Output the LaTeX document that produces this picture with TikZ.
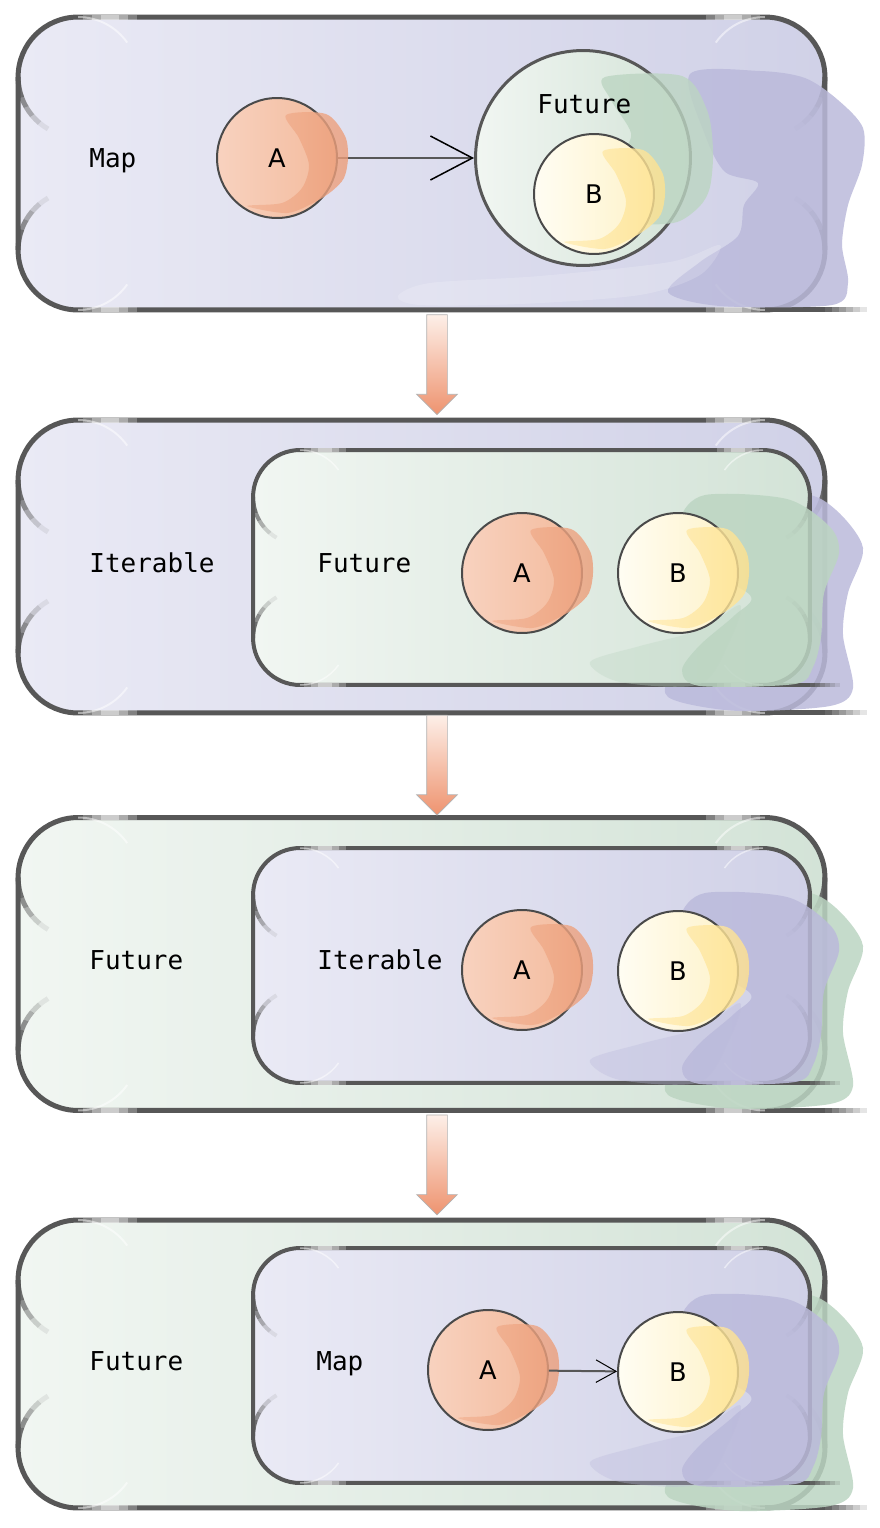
\documentclass[tikz,border=0pt]{standalone}
\usepackage{fontspec}
\setmainfont{DejaVu Sans}
\setmonofont{DejaVu Sans Mono}
\usetikzlibrary{arrows.meta,shapes.arrows}

\definecolor{boxline}{HTML}{575757}
\definecolor{ballline}{HTML}{4A4A4A}
\definecolor{lilacL}{HTML}{EAEAF5}
\definecolor{lilacR}{HTML}{D0D1E7}
\definecolor{sageL}{HTML}{F1F6F2}
\definecolor{sageR}{HTML}{D3E3D7}
\definecolor{lilacblob}{HTML}{BBBADB}
\definecolor{sageblob}{HTML}{BCD5C2}
\definecolor{peachL}{HTML}{F8D2BF}
\definecolor{peachR}{HTML}{F3BA9C}
\definecolor{peachLo}{HTML}{F2B596}
\definecolor{peachHi}{HTML}{EC9D79}
\definecolor{creamL}{HTML}{FFFDF3}
\definecolor{creamR}{HTML}{FEF2C8}
\definecolor{creamLo}{HTML}{FFEDB5}
\definecolor{creamHi}{HTML}{FFE28E}
\definecolor{arrowtop}{HTML}{FDEFE8}
\definecolor{arrowbot}{HTML}{EE936F}

\begin{document}
\begin{tikzpicture}[x=0.02cm,y=-0.02cm]
\tikzstyle{outerbox}=[rectangle, draw=boxline, line width=0.1cm, rounded corners=1.2cm, minimum width=16.14cm, minimum height=5.86cm, inner sep=0, outer sep=0]
\tikzstyle{innerbox}=[rectangle, draw=boxline, line width=0.08cm, rounded corners=0.94cm, minimum width=11.14cm, minimum height=4.7cm, inner sep=0, outer sep=0]
\tikzstyle{lilac}=[left color=lilacL, right color=lilacR]
\tikzstyle{sage}=[left color=sageL, right color=sageR]
\tikzstyle{ball}=[circle, draw=ballline, line width=0.04cm, minimum size=2.4cm, inner sep=0, font=\fontsize{14.6}{17}\selectfont]
\tikzstyle{peach}=[left color=peachL, right color=peachR]
\tikzstyle{cream}=[left color=creamL, right color=creamR]
\tikzstyle{tag}=[anchor=base west, inner sep=0, font=\ttfamily\fontsize{14.8}{17}\selectfont]
\tikzstyle{downarrow}=[single arrow, rotate=-90, draw=gray!60, line width=0.4pt, top color=arrowtop, bottom color=arrowbot, minimum height=2cm, inner xsep=0, inner ysep=0.2cm, single arrow head extend=0.2cm, single arrow tip angle=90, single arrow head indent=0]
\useasboundingbox (0,0) rectangle (879,1528);
\fill[white] (0,0) rectangle (879,1528);

% outer boxes
\node[outerbox, lilac] (m1) at (421.5,163.5) {};
\node[outerbox, lilac] (m2) at (421.5,566.5) {};
\node[outerbox, sage] (m3) at (421.5,964) {};
\node[outerbox, sage, minimum height=5.76cm] (m4) at (421.5,1364) {};
\foreach \b/\r/\w in {m1/1.2/0.1,m2/1.2/0.1,m3/1.2/0.1,m4/1.2/0.1}
 \foreach \a/\sx/\sy/\g/\gd/\l/\ld in {north west/1/-1/180/1/90/-1, north east/-1/-1/0/-1/90/1, south west/1/1/180/-1/270/1, south east/-1/1/0/1/270/-1}
 {
  \coordinate (cc) at ([xshift=\sx*\r*1cm, yshift=\sy*\r*1cm]\b.\a);
  \foreach \k/\o in {0/1,1/.85,2/.65,3/.45,4/.25,5/.1}{
   \pgfmathsetmacro\st{\g+\gd*10*\k}
   \draw[boxline, line width=\w cm, opacity=\o] (cc) ++(\st:\r cm) arc[start angle=\st, delta angle=\gd*10, radius=\r cm];
  }
  \foreach \k/\o in {0/.25,1/.5,2/.7,3/.7,4/.5,5/.25}
   \draw[white, line width=\w cm, opacity=\o] (cc) ++(\l:\r cm) ++({\sx*(5+9*\k)},0) -- ++({\sx*9},0);
  \draw[white, line width=0.04cm, opacity=.5] (cc) ++(\l:\r cm) arc[start angle=\l, delta angle=\ld*55, radius=\r cm];
 }
\foreach \b in {m1,m2,m3,m4}{
 \draw[boxline, line width=0.1cm] (\b.south east) ++(-60,0) -- ++(60,0);
 \foreach \k/\o in {0/.9,1/.75,2/.6,3/.45,4/.3,5/.15}
  \draw[boxline, line width=0.1cm, opacity=\o] (\b.south east) ++({7*\k},0) -- ++(7,0);
}

% blobs behind the right side
\fill[lilacblob, opacity=.85] plot[smooth cycle] coordinates {(690,74) (760,71) (805,78) (838,100) (863,128) (862,165) (848,205) (842,245) (848,283) (832,305) (720,306) (668,292) (700,262) (738,236) (744,205) (758,183) (725,172) (705,135)};
\fill[white, opacity=.18] plot[smooth cycle] coordinates {(398,296) (430,283) (540,276) (670,262) (720,245) (700,275) (640,295) (520,304) (420,305)};
\foreach \dy/\col in {0/lilacblob,398/sageblob,800/sageblob}
 \fill[\col, opacity=.85, shift={(0,\dy)}] plot[smooth cycle] coordinates {(700,494) (800,493) (836,510) (863,548) (848,593) (843,635) (853,688) (830,706) (740,711) (680,702) (665,688) (690,640) (692,560)};

% inner boxes
\node[innerbox, sage] (n2) at (531.5,567.5) {};
\node[innerbox, lilac] (n3) at (531.5,965.5) {};
\node[innerbox, lilac] (n4) at (531.5,1365.5) {};
\foreach \b/\r/\w in {n2/0.94/0.08,n3/0.94/0.08,n4/0.94/0.08}
 \foreach \a/\sx/\sy/\g/\gd/\l/\ld in {north west/1/-1/180/1/90/-1, north east/-1/-1/0/-1/90/1, south west/1/1/180/-1/270/1, south east/-1/1/0/1/270/-1}
 {
  \coordinate (cc) at ([xshift=\sx*\r*1cm, yshift=\sy*\r*1cm]\b.\a);
  \foreach \k/\o in {0/1,1/.85,2/.65,3/.45,4/.25,5/.1}{
   \pgfmathsetmacro\st{\g+\gd*10*\k}
   \draw[boxline, line width=\w cm, opacity=\o] (cc) ++(\st:\r cm) arc[start angle=\st, delta angle=\gd*10, radius=\r cm];
  }
  \foreach \k/\o in {0/.25,1/.5,2/.7,3/.7,4/.5,5/.25}
   \draw[white, line width=\w cm, opacity=\o] (cc) ++(\l:\r cm) ++({\sx*(4+7*\k)},0) -- ++({\sx*7},0);
  \draw[white, line width=0.03cm, opacity=.5] (cc) ++(\l:\r cm) arc[start angle=\l, delta angle=\ld*55, radius=\r cm];
 }
\foreach \b in {n2,n3,n4}{
 \draw[boxline, line width=0.08cm] (\b.south east) ++(-47,0) -- ++(47,0);
 \foreach \k/\o in {0/.9,1/.75,2/.6,3/.45,4/.3,5/.15}
  \draw[boxline, line width=0.08cm, opacity=\o] (\b.south east) ++({5*\k},0) -- ++(5,0);
}
\foreach \dy/\col in {0/sageblob,398/lilacblob,800/lilacblob}{
 \fill[\col, opacity=.85, shift={(0,\dy)}] plot[smooth cycle] coordinates {(705,495) (787,499) (830,527) (839,553) (824,593) (821,637) (813,667) (795,684) (700,686) (682,670) (700,645) (735,615) (750,595) (690,560) (680,520)};
 \fill[\col, opacity=.35, shift={(0,\dy)}] plot[smooth cycle] coordinates {(590,662) (640,646) (700,630) (740,605) (730,640) (700,684) (620,682)};
}

% panel 1
\node[tag] (t1) at (89,167) {Map};
\node[ball, peach] (a1) at (277,158) {A};
\node[circle, draw=boxline, line width=0.06cm, minimum size=4.3cm, left color=sageL, right color=sageR] (f1) at (583,158) {};
\fill[sageblob, opacity=.8, shift={(f1.center)}] plot[smooth cycle] coordinates {(22,-81) (99,-82) (124,-48) (130,-8) (127,29) (116,49) (90,65) (40,60) (40,0) (48,-25) (28,-58)};
\node[tag] (u1) at (537,113) {Future};
\node[ball, cream] (b1) at (594,194) {B};
\draw[boxline, line width=0.04cm, -{Straight Barb[length=0.84cm, width=0.88cm, line width=0.03cm, color=black]}] (a1) -- (f1);

% panel 2
\node[tag] (t2) at (89,572) {Iterable};
\node[tag] (u2) at (317,572) {Future};
\node[ball, peach] (a2) at (522,573) {A};
\node[ball, cream] (b2) at (678,573) {B};

% panel 3
\node[tag] (t3) at (89,969) {Future};
\node[tag] (u3) at (317,969) {Iterable};
\node[ball, peach] (a3) at (522,970) {A};
\node[ball, cream] (b3) at (678,971) {B};

% panel 4
\node[tag] (t4) at (89,1370) {Future};
\node[tag] (u4) at (316,1370) {Map};
\node[ball, peach] (a4) at (488,1370) {A};
\node[ball, cream] (b4) at (678,1372) {B};

% shine on the balls
\foreach \n/\col in {a1/peach,a2/peach,a3/peach,a4/peach,b1/cream,b2/cream,b3/cream,b4/cream}
 \shade[shift={(\n.center)}, left color=\col Lo, right color=\col Hi, opacity=.8] plot[smooth cycle] coordinates {(9,-43) (49,-44) (68,-22) (71,0) (67,20) (55,33) (38,44) (10,55) (-30,48) (5,45) (25,30) (32,7) (22,-20)};

\draw[boxline, line width=0.04cm, -{Straight Barb[length=0.4cm, width=0.45cm, line width=0.02cm, color=black]}] (a4) -- (b4);

% steps
\path ([xshift=0.31cm]m1.south) -- node[downarrow, pos=.45]{} ([xshift=0.31cm]m2.north);
\path ([xshift=0.31cm]m2.south) -- node[downarrow, pos=.45]{} ([xshift=0.31cm]m3.north);
\path ([xshift=0.31cm]m3.south) -- node[downarrow, pos=.45]{} ([xshift=0.31cm]m4.north);
\end{tikzpicture}
\end{document}
